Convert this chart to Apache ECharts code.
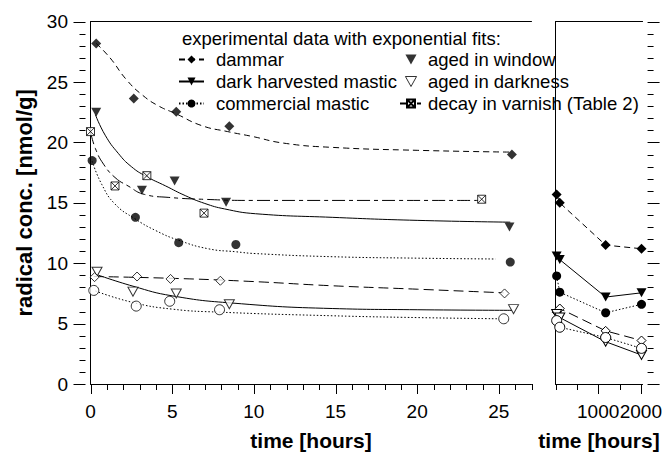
<!DOCTYPE html>
<html>
<head>
<meta charset="utf-8">
<script src="https://cdn.jsdelivr.net/npm/echarts@6/dist/echarts.min.js"></script>
<style>
  html, body { margin: 0; padding: 0; background: #fff; }
  #chart { width: 665px; height: 456px; }
</style>
</head>
<body>
<div id="chart"></div>
<script>
// short-time panel, measured points [hours, nmol/g]
const dammarWindowPts = [[0.35, 28.2], [2.65, 23.65], [5.25, 22.55], [8.5, 21.35], [25.8, 19.0]]
const harvestWindowPts = [[0.35, 22.5], [3.15, 16.05], [5.15, 16.8], [8.3, 15.05], [25.65, 13.0]]
const commercialWindowPts = [[0.1, 18.5], [2.75, 13.8], [5.4, 11.7], [8.9, 11.55], [25.7, 10.1]]
const dammarDarkPts = [[0.25, 8.85], [2.85, 8.9], [4.9, 8.7], [7.95, 8.55], [25.35, 7.5]]
const harvestDarkPts = [[0.4, 9.3], [2.6, 7.65], [5.25, 7.5], [8.5, 6.6], [25.9, 6.2]]
const commercialDarkPts = [[0.2, 7.75], [2.8, 6.45], [4.85, 6.85], [7.9, 6.15], [25.3, 5.4]]
const varnishPts = [[0, 20.9], [1.5, 16.4], [3.45, 17.25], [6.95, 14.15], [23.95, 15.3]]

// exponential fit curves
const dammarWindowFit = [[0.35, 28.2], [1.2, 27.0], [2.2, 25.2], [3.2, 23.9], [4.2, 23.0], [5.2, 22.4], [6.8, 21.4], [8.4, 20.9], [9.9, 20.5], [11.8, 19.95], [14.7, 19.6], [20, 19.35], [25.8, 19.2]]
const harvestWindowFit = [[0.3, 22.3], [0.9, 20.6], [1.7, 19.1], [2.5, 18.0], [3.4, 17.2], [4.6, 16.4], [5.8, 15.6], [7.0, 14.95], [8.2, 14.5], [10.1, 14.1], [14.8, 13.8], [20, 13.55], [25.7, 13.4]]
const commercialWindowFit = [[0.1, 18.45], [0.7, 16.5], [1.5, 14.9], [2.7, 13.7], [4.0, 12.7], [5.4, 11.9], [7.2, 11.2], [8.9, 10.95], [10.1, 10.8], [14.8, 10.54], [20, 10.42], [24.8, 10.35]]
const varnishFit = [[0, 20.9], [0.3, 19.5], [0.8, 18.2], [1.5, 17.1], [2.3, 16.4], [3.3, 15.7], [4.8, 15.45], [6.8, 15.3], [9.9, 15.2], [24, 15.2]]
const dammarDarkFit = [[0.2, 8.9], [5, 8.75], [9.7, 8.5], [14.7, 8.14], [20, 7.85], [25.3, 7.55]]
const harvestDarkFit = [[0.3, 9.1], [2.6, 8.1], [5.0, 7.3], [8.7, 6.7], [14.8, 6.25], [20, 6.15], [25.8, 6.1]]
const commercialDarkFit = [[0.3, 7.7], [2.6, 6.75], [5.0, 6.2], [7.9, 5.95], [14.8, 5.65], [20, 5.5], [25.0, 5.4]]

// long-time panel
const longHours = [27, 100, 1175, 2015]
const dammarWindowLong = [15.7, 15.0, 11.5, 11.2]
const harvestWindowLong = [10.6, 10.3, 7.2, 7.55]
const commercialWindowLong = [8.95, 7.6, 5.9, 6.6]
const dammarDarkLong = [5.95, 6.25, 4.4, 3.6]
const harvestDarkLong = [5.8, 5.5, 3.5, 2.4]
const commercialDarkLong = [5.25, 4.7, 3.85, 2.95]

// tick positions
const shortMajorTicks = [0, 5, 10, 15, 20, 25]
const shortMinorTicks = [1, 2, 3, 4, 6, 7, 8, 9, 11, 12, 13, 14, 16, 17, 18, 19, 21, 22, 23, 24, 26, 27]
const longMajorTicks = [1000, 2000]
const longMinorTicks = [0, 500, 1500]
const yMajorTicks = [0, 5, 10, 15, 20, 25, 30]
const yMinorTicks = [1, 2, 3, 4, 6, 7, 8, 9, 11, 12, 13, 14, 16, 17, 18, 19, 21, 22, 23, 24, 26, 27, 28, 29]

const FONT = 'Liberation Sans, Arial, sans-serif'
const TRI_DOWN = 'path://M0,0L10,0L5,9Z'
const BOX_X = 'path://M0,0H10V10H0Z M0,0L10,10 M10,0L0,10'
const DASH = [6, 4]
const LONG_DASH = [10, 5]
const DOT = [1.5, 2]
const DASH_DOT = [13, 4, 4, 4]
const SHORT_MAX = 27
const LONG_MAX = 2040
const Y_OFFSET = 5

const chart = echarts.init(document.getElementById('chart'), null, { renderer: 'svg' })

const pairs = (xs, ys) => xs.map((x, i) => [x, ys[i]])
const filled = { color: '#000' }
const open = { color: '#fff', borderColor: '#000', borderWidth: 1 }

function fit(name, data, dash, symbol) {
  return {
    name, type: 'line', xAxisIndex: 0, yAxisIndex: 0, data, smooth: true,
    symbol, symbolSize: 9, showSymbol: false, silent: true,
    lineStyle: { color: '#000', width: 1, type: dash }, itemStyle: filled,
  }
}

function points(name, data, symbol, size, style) {
  return {
    name, type: 'scatter', xAxisIndex: 0, yAxisIndex: 0, data,
    symbol, symbolSize: size, itemStyle: style, z: 5,
  }
}

function longLine(name, ys, dash, symbol, size, style) {
  return {
    name, type: 'line', xAxisIndex: 2, yAxisIndex: 1, data: pairs(longHours, ys),
    symbol, symbolSize: size, showSymbol: true,
    lineStyle: { color: '#000', width: 1, type: dash }, itemStyle: style,
  }
}

// outward tick marks, placed through the axes' own scales
function tickMarks(xAxisIndex, yAxisIndex, values, dim, len, edge) {
  return {
    type: 'custom', xAxisIndex, yAxisIndex, silent: true, clip: false, z: 3,
    data: values.map((v) => (dim === 'x' ? [v, 0] : [0, v])),
    renderItem: (params, api) => {
      let x1, y1, x2, y2
      if (dim === 'x') {
        const p = api.coord([api.value(0), 0])
        x1 = x2 = Math.round(p[0]) + 0.5
        y1 = p[1]
        y2 = p[1] + len
      } else {
        const p = api.coord([edge, api.value(1)])
        const dir = edge === 0 ? -1 : 1
        y1 = y2 = Math.round(p[1]) + 0.5
        x1 = p[0] + dir * Y_OFFSET
        x2 = x1 + dir * len
      }
      return { type: 'line', shape: { x1, y1, x2, y2 }, style: { stroke: '#000', lineWidth: 1 } }
    },
  }
}

const labelText = { color: '#000', fontSize: 19, fontFamily: FONT }
const legendText = { color: '#000', fontSize: 18.5, fontFamily: FONT }
const titleText = { color: '#000', fontSize: 21, fontWeight: 'bold', fontFamily: FONT }
const black = { color: '#000', width: 1 }
const plain = (v) => String(v)

function axisBase() {
  return {
    axisLine: { show: true, lineStyle: { ...black } },
    axisTick: { show: false },
    minorTick: { show: false },
    splitLine: { show: false },
  }
}

function frameTop(gridIndex, max) {
  return {
    gridIndex, type: 'value', position: 'top', min: 0, max,
    ...axisBase(), axisLabel: { show: false },
  }
}

chart.setOption({
  animation: false,
  textStyle: { fontFamily: FONT },
  title: {
    text: 'experimental data with exponential fits:',
    left: 182, top: 27, padding: 0,
    textStyle: { ...legendText, fontWeight: 'normal', lineHeight: 22 },
  },
  legend: [
    {
      data: ['dammar', 'dark harvested mastic', 'commercial mastic'],
      orient: 'vertical', left: 178, top: 48.5, padding: 0,
      itemWidth: 25, itemHeight: 10, itemGap: 0, selectedMode: false,
      textStyle: { ...legendText, lineHeight: 22, padding: [0, 0, 0, 7] },
    },
    {
      data: [
        { name: 'aged in window', icon: TRI_DOWN },
        { name: 'aged in darkness', icon: TRI_DOWN, itemStyle: { borderWidth: 1 } },
        'decay in varnish (Table 2)',
      ],
      orient: 'vertical', left: 399, top: 48.5, padding: 0,
      itemWidth: 22, itemHeight: 10, itemGap: 0, selectedMode: false,
      textStyle: { ...legendText, lineHeight: 22, padding: [0, 0, 0, 1] },
    },
  ],
  grid: [
    { left: 90.5, top: 21.7, width: 441, height: 367.5 },
    { left: 555.5, top: 21.7, width: 89.5, height: 367.5 },
  ],
  xAxis: [
    {
      gridIndex: 0, type: 'value', position: 'bottom', min: 0, max: SHORT_MAX, interval: 5,
      ...axisBase(),
      axisLabel: { ...labelText, margin: 18, customValues: shortMajorTicks, formatter: plain },
      name: 'time [hours]', nameLocation: 'middle', nameGap: 46, nameTextStyle: titleText,
    },
    frameTop(0, SHORT_MAX),
    {
      gridIndex: 1, type: 'value', position: 'bottom', min: 0, max: LONG_MAX, interval: 1000,
      ...axisBase(),
      axisLabel: { ...labelText, margin: 18, customValues: longMajorTicks, formatter: plain },
      name: 'time [hours]', nameLocation: 'middle', nameGap: 46, nameTextStyle: titleText,
    },
    frameTop(1, LONG_MAX),
  ],
  yAxis: [
    {
      gridIndex: 0, type: 'value', position: 'left', offset: Y_OFFSET, min: 0, max: 30, interval: 5,
      ...axisBase(),
      axisLabel: { ...labelText, margin: 17.5, formatter: plain },
      name: 'radical conc. [nmol/g]', nameLocation: 'middle', nameGap: 45,
      nameTextStyle: { ...titleText, fontSize: 22 },
    },
    {
      gridIndex: 1, type: 'value', position: 'right', offset: Y_OFFSET, min: 0, max: 30, interval: 5,
      ...axisBase(),
      axisLabel: { show: false },
    },
  ],
  series: [
    fit('dammar', dammarWindowFit, DASH, 'diamond'),
    fit('dark harvested mastic', harvestWindowFit, 'solid', TRI_DOWN),
    fit('commercial mastic', commercialWindowFit, DOT, 'circle'),
    {
      name: 'decay in varnish (Table 2)', type: 'line', xAxisIndex: 0, yAxisIndex: 0,
      data: varnishFit, smooth: true, symbol: BOX_X, symbolSize: 8, showSymbol: false, silent: true,
      lineStyle: { color: '#000', width: 1, type: DASH_DOT }, itemStyle: open,
    },
    fit('dammar', dammarDarkFit, LONG_DASH, 'diamond'),
    fit('dark harvested mastic', harvestDarkFit, 'solid', TRI_DOWN),
    fit('commercial mastic', commercialDarkFit, DOT, 'circle'),

    points('aged in window', harvestWindowPts, TRI_DOWN, [10, 9], filled),
    points('aged in window', dammarWindowPts, 'diamond', 10, filled),
    points('aged in window', commercialWindowPts, 'circle', 9, filled),
    points('aged in darkness', harvestDarkPts, TRI_DOWN, [10, 9], open),
    points('aged in darkness', dammarDarkPts, 'diamond', 9, open),
    points('aged in darkness', commercialDarkPts, 'circle', 10, open),
    points('decay in varnish (Table 2)', varnishPts, BOX_X, 8, open),

    longLine('dammar', dammarWindowLong, DASH, 'diamond', 10, filled),
    longLine('dark harvested mastic', harvestWindowLong, 'solid', TRI_DOWN, [10, 9], filled),
    longLine('commercial mastic', commercialWindowLong, DOT, 'circle', 9, filled),
    longLine('dammar', dammarDarkLong, LONG_DASH, 'diamond', 9, open),
    longLine('dark harvested mastic', harvestDarkLong, 'solid', TRI_DOWN, [10, 9], open),
    longLine('commercial mastic', commercialDarkLong, DOT, 'circle', 10, open),

    tickMarks(0, 0, shortMajorTicks, 'x', 10),
    tickMarks(0, 0, shortMinorTicks, 'x', 6),
    tickMarks(2, 1, longMajorTicks, 'x', 10),
    tickMarks(2, 1, longMinorTicks, 'x', 6),
    tickMarks(0, 0, yMajorTicks, 'y', 12, 0),
    tickMarks(0, 0, yMinorTicks, 'y', 6, 0),
    tickMarks(2, 1, yMajorTicks, 'y', 12, LONG_MAX),
    tickMarks(2, 1, yMinorTicks, 'y', 6, LONG_MAX),
  ],
})
</script>
</body>
</html>
